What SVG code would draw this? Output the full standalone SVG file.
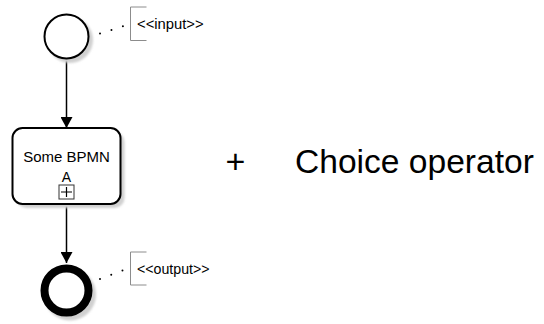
<svg xmlns="http://www.w3.org/2000/svg" width="544" height="324" viewBox="0 0 544 324">
<style>
.lbl{font-family:"Liberation Sans",Arial,sans-serif;fill:#000}
.shadow{fill:#d0d0d0}
.ann{fill:none;stroke:#8c8c8c;stroke-width:1}
.dots{fill:none;stroke:#000;stroke-width:2;stroke-linecap:round;stroke-dasharray:0 12}
.flow{fill:none;stroke:#000;stroke-width:1.5}
</style>
<defs>
<marker id="arr" markerWidth="14" markerHeight="12" refX="11" refY="6" orient="auto" markerUnits="userSpaceOnUse">
<path d="M0,0 L11,6 L0,12 Z" fill="#000"/>
</marker>
<filter id="blur" x="-20%" y="-20%" width="140%" height="140%"><feGaussianBlur stdDeviation="0.8"/></filter>
</defs>
<rect width="544" height="324" fill="#fff"/>
<g id="connectors">
<line class="flow" x1="66.5" y1="59" x2="66.5" y2="128" marker-end="url(#arr)"/>
<line class="flow" x1="66.5" y1="205" x2="66.5" y2="263" marker-end="url(#arr)"/>
</g>
<g id="start">
<circle class="shadow" cx="70" cy="40" r="23" filter="url(#blur)"/>
<circle cx="66.5" cy="36.5" r="22" fill="#fff" stroke="#000" stroke-width="2"/>
</g>
<g id="input-annotation">
<line class="dots" x1="100" y1="33.5" x2="124" y2="26"/>
<path class="ann" d="M146.5,7 H130.5 V40.5 H146.5"/>
<text class="lbl" x="137" y="28.5" font-size="14.8">&lt;&lt;input&gt;&gt;</text>
</g>
<g id="task">
<rect class="shadow" x="16.5" y="132" width="108" height="76" rx="10" filter="url(#blur)"/>
<rect x="12.5" y="128" width="108" height="76" rx="10" fill="#fff" stroke="#000" stroke-width="2"/>
<text class="lbl" x="66.5" y="162" font-size="15" text-anchor="middle">Some BPMN</text>
<text class="lbl" x="66.5" y="182" font-size="14" text-anchor="middle">A</text>
<rect x="59" y="185" width="15" height="14" fill="#fff" stroke="#333" stroke-width="1"/>
<path d="M61,192 H72 M66.5,187 V197" stroke="#000" stroke-width="1.2"/>
</g>
<g id="end">
<circle class="shadow" cx="70" cy="294.5" r="26" filter="url(#blur)"/>
<circle cx="66.5" cy="290.5" r="22" fill="#fff" stroke="#000" stroke-width="8"/>
</g>
<g id="output-annotation">
<line class="dots" x1="100" y1="279" x2="124" y2="270"/>
<path class="ann" d="M146.5,252 H130.5 V285 H146.5"/>
<text class="lbl" x="137" y="273.5" font-size="14.2">&lt;&lt;output&gt;&gt;</text>
</g>
<g id="caption">
<text class="lbl" x="225.5" y="173" font-size="34">+</text>
<text class="lbl" x="295" y="173" font-size="33.6">Choice operator</text>
</g>
</svg>
